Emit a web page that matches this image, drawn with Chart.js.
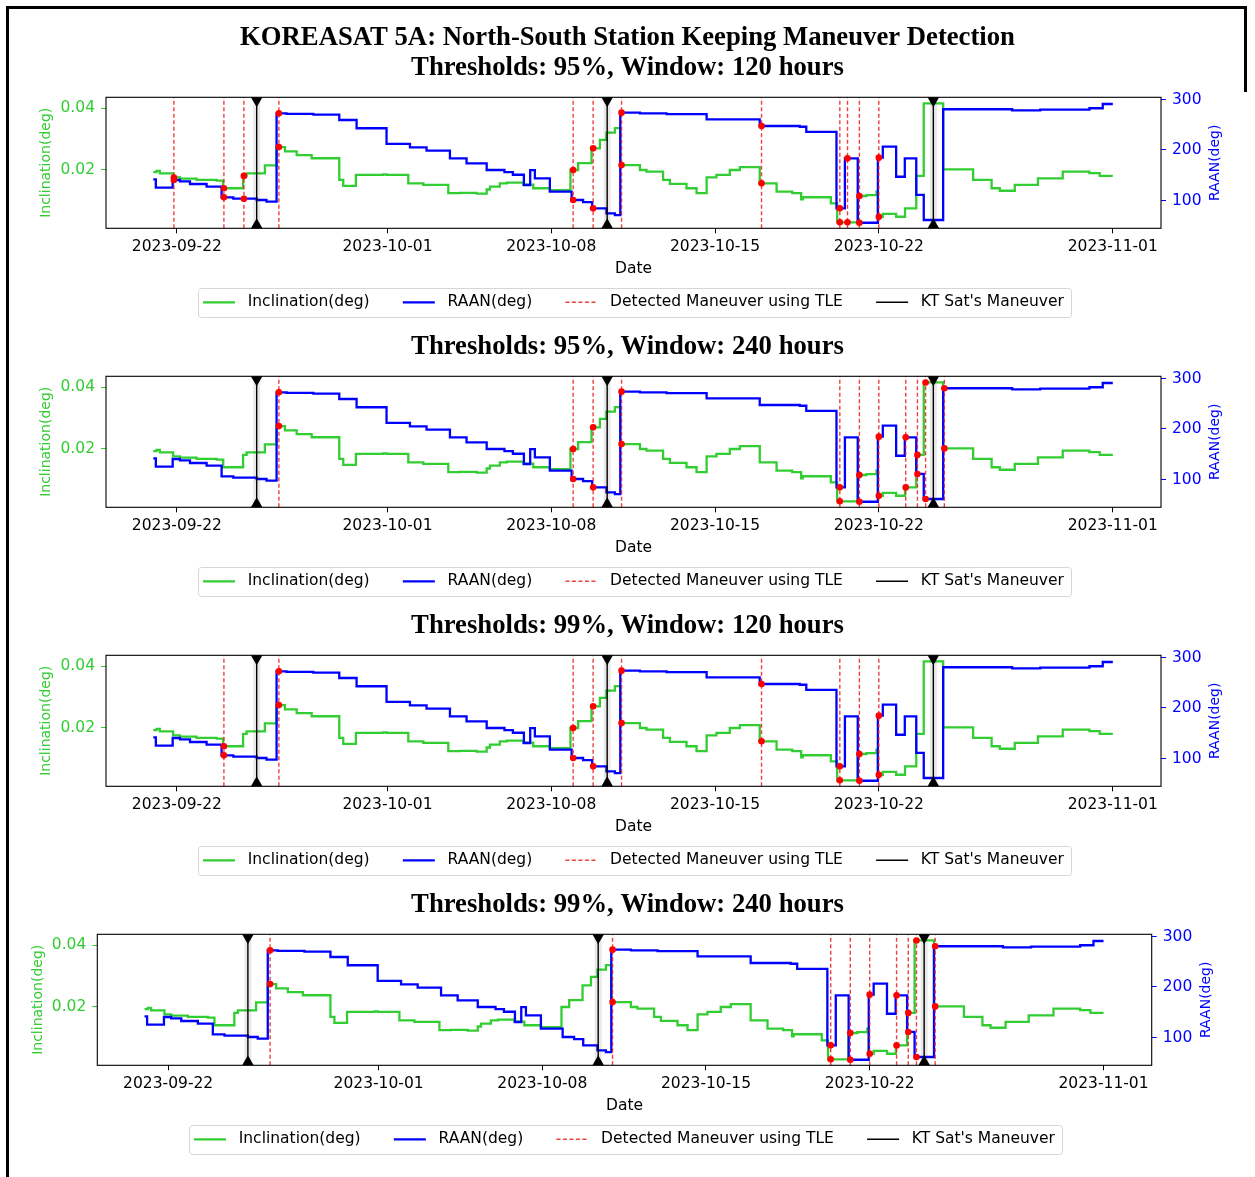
<!DOCTYPE html>
<html>
<head>
<meta charset="utf-8">
<script src="https://cdn.jsdelivr.net/npm/chart.js@4.4.1/dist/chart.umd.min.js"></script>
<style>
  body { margin: 0; background: #fff; width: 1255px; height: 1177px; overflow: hidden; position: relative; }
  canvas { position: absolute; left: 0; }
  #frame { position: absolute; left: 6px; top: 6px; width: 1238px; height: 1200px; border-left: 3px solid #000; border-top: 3px solid #000; }
  #frameR { position: absolute; left: 1244px; top: 6px; width: 3px; height: 86px; background: #000; }
</style>
</head>
<body>
<div id="frame"></div>
<div id="frameR"></div>
<canvas id="c0" width="1255" height="331" style="top:0px"></canvas>
<canvas id="c1" width="1255" height="279" style="top:331px"></canvas>
<canvas id="c2" width="1255" height="279" style="top:610px"></canvas>
<canvas id="c3" width="1255" height="279" style="top:889px"></canvas>
<script>
// x values are days since 2023-09-22 00:00
const tickDays = [0, 9, 16, 23, 30, 40];
const tickLabels = ["2023-09-22", "2023-10-01", "2023-10-08", "2023-10-15", "2023-10-22", "2023-11-01"];

const incDay = [-1.01, -0.87, -0.73, -0.16, 0.13, 0.84, 1.7, 1.98, 2.83, 2.98, 3.76, 4.26, 4.62, 5.12, 5.76,
  6.94, 7.11, 7.65, 8.82, 8.96, 9.89, 10.53, 11.6, 12.09, 12.81, 13.24, 13.38, 13.8, 14.1, 14.8, 15.23, 15.94,
  16.82, 17.15, 17.72, 18.08, 18.36, 18.72, 18.95, 19.79, 20.07, 20.78, 21.07, 21.78, 22.21, 22.64, 23.06, 23.63,
  24.06, 24.91, 25.63, 26.3, 26.68, 26.75, 27.95, 28.22, 29.1, 29.47, 29.9, 29.96, 30.17, 30.74, 31.12, 31.6,
  31.92, 32.75, 34.03, 34.82, 35.17, 35.81, 36.8, 37.86, 39.0, 39.44, 40.0];
const incVal = [0.0193, 0.0197, 0.0189, 0.0176, 0.0172, 0.0168, 0.0166, 0.0141, 0.0181, 0.0189, 0.0215, 0.0274, 0.0260, 0.0248, 0.0238,
  0.0168, 0.0149, 0.0184, 0.0186, 0.0184, 0.0157, 0.0152, 0.0125, 0.0126, 0.0124, 0.0137, 0.0146, 0.0157, 0.0159, 0.0153, 0.0141, 0.0135,
  0.0200, 0.0222, 0.0270, 0.0297, 0.0321, 0.0335, 0.0216, 0.0200, 0.0195, 0.0168, 0.0155, 0.0141, 0.0125, 0.0176, 0.0184, 0.0200,
  0.0209, 0.0157, 0.0130, 0.0125, 0.0105, 0.0112, 0.0092, 0.0031, 0.0116, 0.0119, 0.0130, 0.0049, 0.0058, 0.0049, 0.0076, 0.0181,
  0.0415, 0.0202, 0.0168, 0.0141, 0.0133, 0.0152, 0.0173, 0.0195, 0.0190, 0.0181, 0.0181];

const raanDay = [-1.01, -0.9, -0.18, 0.13, 0.56, 1.27, 1.91, 2.41, 3.41, 3.83, 4.26, 4.69, 5.83, 6.94, 7.68, 8.96,
  9.96, 10.67, 11.67, 12.38, 13.24, 14.0, 14.36, 14.83, 15.1, 15.3, 15.94, 16.87, 17.36, 17.75, 18.36, 18.72, 18.95,
  19.79, 20.93, 22.64, 24.91, 26.62, 26.9, 28.19, 28.55, 29.1, 29.96, 30.17, 30.74, 31.11, 31.6, 31.92, 32.75,
  35.7, 36.9, 39.0, 39.57, 40.0];
const raanVal = [142, 125.4, 140.6, 138, 132.7, 127.4, 106.3, 103.6, 101, 97.7, 272.6, 271.5, 270, 259.4, 243, 212,
  205, 198.6, 183.5, 173.6, 160.4, 156, 151, 130.7, 160, 144, 117.5, 101, 97, 84.5, 74.6, 71, 273.9,
  272.5, 271, 260.7, 247.5, 246, 236, 84.5, 183.5, 56, 184.8, 206.6, 147, 183.5, 111, 61.4, 280.6,
  278.5, 280, 282.6, 291, 291];

const ktManeuvers = [3.41, 18.39, 32.33];

const mainTitle = "KOREASAT 5A: North-South Station Keeping Maneuver Detection";
const panelTitles = [
  "Thresholds: 95%, Window: 120 hours",
  "Thresholds: 95%, Window: 240 hours",
  "Thresholds: 99%, Window: 120 hours",
  "Thresholds: 99%, Window: 240 hours"
];
const detected = [
  [-0.128, 2.009, 2.863, 4.359, 16.936, 17.79, 19.004, 24.987, 28.333, 28.662, 29.17, 30.0],
  [4.359, 16.936, 17.79, 19.004, 28.333, 29.17, 30.0, 31.15, 31.65, 32.0, 32.8],
  [2.009, 4.359, 16.936, 17.79, 19.004, 24.987, 28.333, 29.17, 30.0],
  [4.359, 19.004, 28.333, 29.17, 30.0, 31.15, 31.65, 32.0, 32.8]
];

const X_MIN = -3.03, X_MAX = 42.06;
const INC_MIN = 0.00117, INC_MAX = 0.04348;
const RAAN_MIN = 45, RAAN_MAX = 304.3;

const GREEN = "#32cd32";
const BLUE = "#0000ff";
const FONT = "DejaVu Sans";

// plot area edges / axis title offsets per panel
const layouts = [
  { left: 106, right: 94, lTitle: 38.3, rTitleX: 1215 },
  { left: 106, right: 94, lTitle: 38.3, rTitleX: 1215 },
  { left: 106, right: 94, lTitle: 38.3, rTitleX: 1215 },
  { left: 97.3, right: 103.3, lTitle: 29.9, rTitleX: 1206.7 }
];

const stepAt = (days, vals, t) => {
  let v = vals[0];
  days.forEach((d, i) => { if (d <= t) v = vals[i]; });
  return v;
};

const vlines = (ts) => ts.flatMap(t => [{ x: t, y: INC_MIN }, { x: t, y: INC_MAX }, { x: t, y: null }]);

const framePlugin = {
  id: "frames",
  afterDatasetsDraw(chart) {
    const { ctx, chartArea: a } = chart;
    ctx.save();
    ctx.strokeStyle = "#000";
    ctx.lineWidth = 1.1;
    ctx.strokeRect(a.left, a.top, a.right - a.left, a.bottom - a.top);
    ctx.restore();
  },
  afterDraw(chart) {
    const ctx = chart.ctx;
    // right axis title, reading bottom to top like the left one
    const s = chart.scales.y1;
    ctx.save();
    ctx.translate(chart.options.rTitleX, (s.top + s.bottom) / 2);
    ctx.rotate(-Math.PI / 2);
    ctx.textAlign = "center";
    ctx.textBaseline = "middle";
    ctx.font = "14px " + FONT;
    ctx.fillStyle = BLUE;
    ctx.fillText("RAAN(deg)", 0, 0);
    ctx.restore();

    const boxes = chart.legend.legendHitBoxes;
    if (!boxes || !boxes.length) return;
    const first = boxes[0], last = boxes[boxes.length - 1];
    const cy = first.top + first.height / 2;
    const x0 = first.left - 5, x1 = last.left + last.width + 7;
    ctx.save();
    ctx.strokeStyle = "#d6d6d6";
    ctx.lineWidth = 1;
    ctx.beginPath();
    ctx.roundRect(Math.round(x0) + 0.5, Math.round(cy - 14) + 0.5, Math.round(x1 - x0), 29, 3);
    ctx.stroke();
    ctx.restore();
  }
};

function makeChart(k) {
  const L = layouts[k];
  const tickFont = { family: FONT, size: 15.5 };
  const datasets = [
    { label: "Inclination(deg)", data: incDay.map((d, i) => ({ x: d, y: incVal[i] })), yAxisID: "y",
      borderColor: GREEN, borderWidth: 2.3, stepped: true, pointRadius: 0, order: 6 },
    { label: "RAAN(deg)", data: raanDay.map((d, i) => ({ x: d, y: raanVal[i] })), yAxisID: "y1",
      borderColor: BLUE, borderWidth: 2.3, stepped: true, pointRadius: 0, order: 5 },
    { label: "Detected Maneuver using TLE", data: vlines(detected[k]), yAxisID: "y",
      borderColor: "rgba(235,30,30,0.85)", borderWidth: 1.4, borderDash: [4, 2.5], pointRadius: 0, spanGaps: false, order: 2 },
    { label: "KT Sat's Maneuver", data: vlines(ktManeuvers), yAxisID: "y",
      borderColor: "#000", borderWidth: 1.4, spanGaps: false, clip: 0, order: 3,
      pointStyle: "triangle",
      pointRadius: c => (c.raw && c.raw.y !== null ? 10 : 0),
      pointRotation: c => (c.raw && c.raw.y === INC_MAX ? 180 : 0),
      pointBackgroundColor: "#000", pointBorderColor: "#000", pointBorderWidth: 0 },
    { label: "halo", data: vlines(ktManeuvers), yAxisID: "y",
      borderColor: "rgba(0,0,0,0.09)", borderWidth: 7, pointRadius: 0, spanGaps: false, order: 4 },
    { label: "incDots", data: detected[k].map(t => ({ x: t, y: stepAt(incDay, incVal, t) })), yAxisID: "y",
      showLine: false, pointRadius: 3.3, pointBackgroundColor: "#ff0000", pointBorderWidth: 0, order: 0 },
    { label: "raanDots", data: detected[k].map(t => ({ x: t, y: stepAt(raanDay, raanVal, t) })), yAxisID: "y1",
      showLine: false, pointRadius: 3.3, pointBackgroundColor: "#ff0000", pointBorderWidth: 0, order: 0 }
  ];

  new Chart(document.getElementById("c" + k), {
    type: "line",
    data: { datasets },
    options: {
      responsive: false,
      animation: false,
      devicePixelRatio: 1,
      events: [],
      rTitleX: L.rTitleX,
      layout: { padding: { left: 0, right: 0, top: 0, bottom: 10.95 } },
      plugins: {
        tooltip: { enabled: false },
        title: {
          display: true,
          text: k === 0 ? [mainTitle, panelTitles[0]] : panelTitles[k],
          color: "#000",
          font: { family: "Liberation Serif", size: 26.7, weight: "bold", lineHeight: 30 / 26.7 },
          padding: { top: k === 0 ? 23 : 1, bottom: 14.3 }
        },
        legend: {
          position: "bottom",
          fullSize: false,
          labels: {
            usePointStyle: true,
            pointStyleWidth: 32,
            padding: 10,
            color: "#000",
            font: { family: FONT, size: 15.5 },
            generateLabels: chart => chart.data.datasets.slice(0, 4).map((ds, i) => ({
              text: " " + ds.label + (i < 3 ? "\u2003\u2002" : ""),
              fillStyle: ds.borderColor,
              strokeStyle: ds.borderColor,
              lineWidth: i === 3 ? 1.5 : ds.borderWidth,
              lineDash: ds.borderDash || [],
              pointStyle: "line",
              rotation: 0,
              hidden: false,
              datasetIndex: i,
              fontColor: "#000"
            }))
          }
        }
      },
      scales: {
        x: {
          type: "linear", min: X_MIN, max: X_MAX,
          afterBuildTicks: s => { s.ticks = tickDays.map(v => ({ value: v })); },
          afterFit: s => { s.height = 56.25; },
          ticks: { callback: (v, i) => tickLabels[i], color: "#000", font: tickFont, padding: 4, maxRotation: 0, autoSkip: false },
          grid: { drawOnChartArea: false, tickLength: 5, tickColor: "#000" },
          border: { display: false },
          title: { display: true, text: "Date", color: "#000", font: tickFont, padding: { top: 0, bottom: 6.25 } }
        },
        y: {
          position: "left", min: INC_MIN, max: INC_MAX,
          afterFit: s => { s.width = L.left; },
          ticks: { stepSize: 0.02, includeBounds: false, callback: v => v.toFixed(2), color: GREEN, font: tickFont, padding: 6 },
          grid: { drawOnChartArea: false, tickLength: 5, tickColor: GREEN },
          border: { display: false },
          title: { display: true, text: "Inclination(deg)", color: GREEN, font: { family: FONT, size: 14 }, padding: { top: L.lTitle, bottom: 0 } }
        },
        y1: {
          position: "right", min: RAAN_MIN, max: RAAN_MAX,
          afterFit: s => { s.width = L.right; },
          ticks: { stepSize: 100, includeBounds: false, color: BLUE, font: tickFont, padding: 6 },
          grid: { drawOnChartArea: false, tickLength: 5, tickColor: BLUE },
          border: { display: false },
          title: { display: false }
        }
      }
    },
    plugins: [framePlugin]
  });
}

[0, 1, 2, 3].forEach(makeChart);
</script>
</body>
</html>
